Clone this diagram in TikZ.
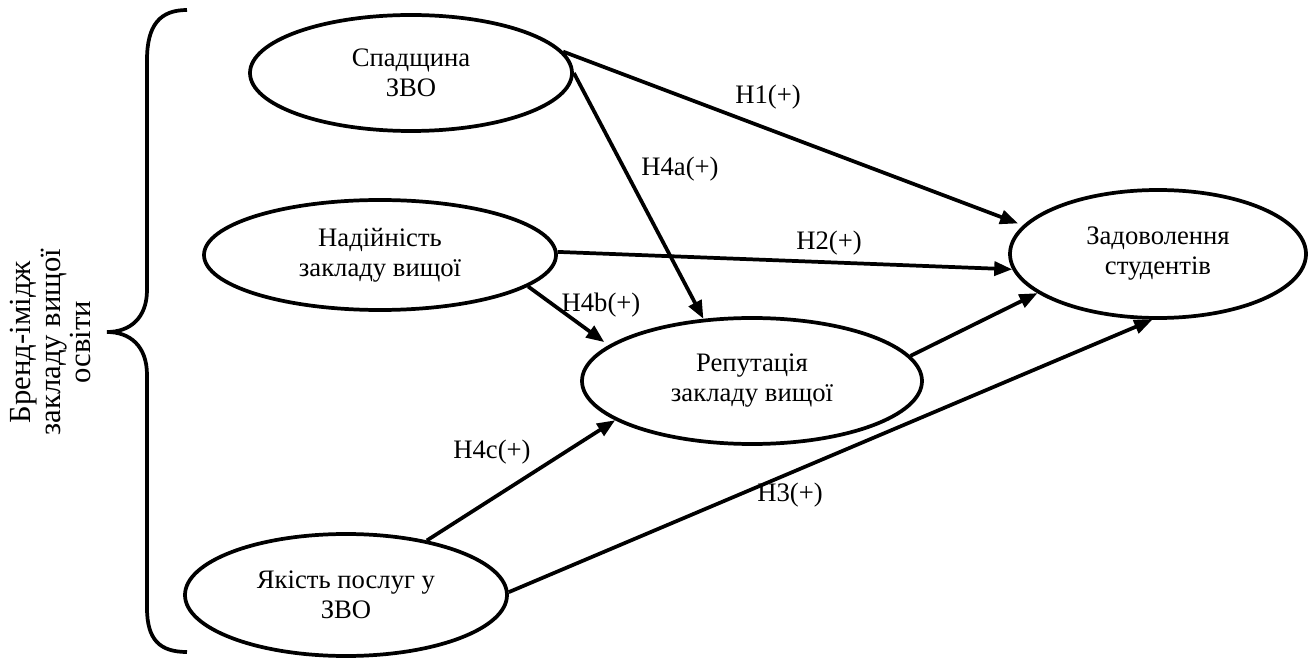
\documentclass[tikz,border=0pt]{standalone}
\usepackage{fontspec}
\setmainfont{Liberation Serif}
\usetikzlibrary{shapes.geometric,arrows.meta}

\begin{document}
\begin{tikzpicture}[x=0.75pt,y=-0.75pt,
        construct/.style={draw, ellipse, line width=2.8pt, align=center, inner sep=0pt,
            font=\fontsize{20}{22.5}\selectfont},
        hyp/.style={-{Triangle[length=13.5pt,width=10.5pt]}, line width=2.8pt},
        hyplabel/.style={font=\fontsize{20}{22.5}\selectfont}]
        \useasboundingbox (0,0) rectangle (1311,659);

        % Brand image components
        \node[construct, minimum width=241.5pt, minimum height=87pt] (spad) at (411,73) {Спадщина\\ЗВО};
        \node[construct, minimum width=264pt, minimum height=82.5pt] (nad) at (380,255) {Надійність\\закладу вищої};
        \node[construct, minimum width=241.5pt, minimum height=91.5pt] (jak) at (346,595) {Якість послуг у\\ЗВО};

        % Mediator and outcome
        \node[construct, minimum width=255pt, minimum height=94.5pt] (rep) at (752,381) {Репутація\\закладу вищої};
        \node[construct, minimum width=222pt, minimum height=96pt] (zad) at (1158,254) {Задоволення\\студентів};

        % Brace with its label
        \draw[line width=2.8pt] (187,10) .. controls (160,10) and (147,25) .. (147,60) -- (147,290)
            .. controls (147,318) and (130,332) .. (107,332)
            .. controls (130,332) and (147,346) .. (147,375) -- (147,608)
            .. controls (147,640) and (160,652) .. (187,652);
        \node[rotate=90, align=center, font=\fontsize{23}{22.5}\selectfont] (brand) at (50,342) {Бренд-імідж\\закладу вищої\\освіти};

        % Hypotheses
        \draw[hyp, shorten >=4pt] (spad.8) -- (zad.168);
        \draw[hyp] (spad.east) -- (rep.128);
        \draw[hyp] (nad.1) -- (zad.186);
        \draw[hyp, shorten >=4pt] (nad.-12) -- (rep.166);
        \draw[hyp] (rep.9) -- (zad.198);
        \draw[hyp] (jak.34) -- (rep.196);
        \draw[hyp] (jak.1) -- (zad.265);

        % Hypothesis labels
        \node[hyplabel] (h1) at (768,97) {H1(+)};
        \node[hyplabel] (h4a) at (680,169) {H4a(+)};
        \node[hyplabel] (h2) at (829,243) {H2(+)};
        \node[hyplabel] (h4b) at (601,305) {H4b(+)};
        \node[hyplabel] (h4c) at (492,452) {H4c(+)};
        \node[hyplabel] (h3) at (790,495) {H3(+)};
    \end{tikzpicture}
\end{document}
